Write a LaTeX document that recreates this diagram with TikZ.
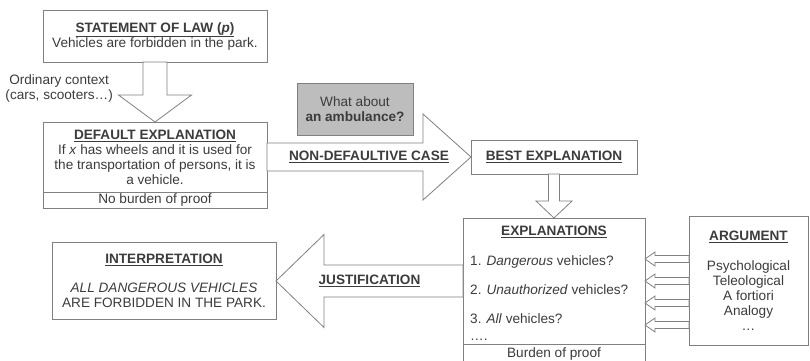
\documentclass[tikz,border=0pt]{standalone}
\usepackage{fontspec}
\setmainfont{Liberation Sans}
\usetikzlibrary{positioning, calc}
\definecolor{linegray}{HTML}{808080}
\definecolor{textgray}{HTML}{3C3C3C}
\definecolor{askfill}{HTML}{BDBDBD}

\begin{document}
\begin{tikzpicture}[
  x=1pt, y=-1pt,
  every node/.style={text=textgray, font=\fontsize{13.6}{15}\selectfont},
  box/.style={draw=linegray, line width=0.8pt, fill=white, align=center,
              inner sep=2pt, outer sep=0pt},
  foot/.style={box, minimum height=16pt},
  ask/.style={box, fill=askfill, minimum width=116pt, minimum height=52pt},
  note/.style={align=center, inner sep=0pt},
  lbl/.style={inner sep=0pt},
  fatarrow/.style={draw=linegray, line width=0.8pt, fill=white},
  fat down/.style n args={3}{fatarrow, to path={
    ($(\tikztostart)+(-#1,0)$) -- ($(\tikztotarget)+(-#1,-#3)$) -- ($(\tikztotarget)+(-#2,-#3)$)
    -- (\tikztotarget) -- ($(\tikztotarget)+(#2,-#3)$) -- ($(\tikztotarget)+(#1,-#3)$)
    -- ($(\tikztostart)+(#1,0)$) -- cycle}},
  fat right/.style n args={3}{fatarrow, to path={
    ($(\tikztostart)+(0,-#1)$) -- ($(\tikztotarget)+(-#3,-#1)$) -- ($(\tikztotarget)+(-#3,-#2)$)
    -- (\tikztotarget) -- ($(\tikztotarget)+(-#3,#2)$) -- ($(\tikztotarget)+(-#3,#1)$)
    -- ($(\tikztostart)+(0,#1)$) -- cycle}},
  fat left/.style n args={3}{fatarrow, to path={
    ($(\tikztostart)+(0,-#1)$) -- ($(\tikztotarget)+(#3,-#1)$) -- ($(\tikztotarget)+(#3,-#2)$)
    -- (\tikztotarget) -- ($(\tikztotarget)+(#3,#2)$) -- ($(\tikztotarget)+(#3,#1)$)
    -- ($(\tikztostart)+(0,#1)$) -- cycle}},
]
\useasboundingbox (0,0) rectangle (810,360);

% === Left column: law and default reading ===
\node[box, minimum width=224pt, minimum height=52pt] (law) at (155,36)
  {\underline{\textbf{STATEMENT OF LAW (\textit{p})}}\\Vehicles are forbidden in the park.};

\node[box, minimum width=224pt, minimum height=70pt, below=60pt of law] (default)
  {\underline{\textbf{DEFAULT EXPLANATION}}\\If \textit{x} has wheels and it is used for\\
   the transportation of persons, it is\\a vehicle.};
\node[foot, minimum width=224pt, below=0pt of default] (noburden) {No burden of proof};

\node[note, anchor=east] (ordinary) at ($(law.south)+(-42,26)$)
  {Ordinary context\\(cars, scooters…)};

% === Hard case ===
\node[box, minimum width=166pt, minimum height=34pt, right=204pt of default] (best)
  {\underline{\textbf{BEST EXPLANATION}}};

\node[ask] (ambulance) at (355,109) {What about\\\textbf{an ambulance?}};

% === Candidate explanations and arguments ===
\node[box, minimum width=182pt, minimum height=126pt, below=44pt of best] (expl) {};
\node[foot, minimum width=182pt, minimum height=19pt, below=0pt of expl] (proof) {Burden of proof};
\node[lbl, below=8pt of expl.north] (explhead) {\underline{\textbf{EXPLANATIONS}}};
\node[lbl, align=left, anchor=north west] (expllist) at ($(expl.north west)+(7,37)$)
  {1. \textit{Dangerous} vehicles?\\[14pt]2. \textit{Unauthorized} vehicles?\\[14pt]
   3. \textit{All} vehicles?\\[2pt]….};

\node[box, minimum width=119pt, minimum height=129pt, right=44pt of expl] (argument)
  {\underline{\textbf{ARGUMENT}}\\[15pt]Psychological\\Teleological\\A fortiori\\Analogy\\…};

\node[box, minimum width=224pt, minimum height=77pt, left=187pt of expl] (interp)
  {\underline{\textbf{INTERPRETATION}}\\[14pt]\textit{ALL DANGEROUS VEHICLES}\\
   ARE FORBIDDEN IN THE PARK.};

% === Block arrows ===
\draw[fat down={12}{36.5}{27}] (law.south) to (default.north);
\draw[fat right={14}{43}{48}] (default.east |- best.west) to (best.west);
\draw[fat down={5.5}{18}{17}] (best.south -| expl.north) to (expl.north);
\draw[fat left={16}{46.5}{48}] (expl.west |- interp.east) to (interp.east);
\foreach \dy [count=\i] in {-22,0,22,44} {
  \coordinate (arg\i) at ($(argument.west)+(0,\dy)$);
  \draw[fat left={3.5}{7}{10}] (arg\i) to (expl.east |- arg\i);
}

% === Arrow labels ===
\node[lbl] (nondefault) at ($(default.east)!0.5!(best.west)$)
  {\underline{\textbf{NON-DEFAULTIVE CASE}}};
\node[lbl] (justif) at ($(interp.east)!0.5!(expl.west)$)
  {\underline{\textbf{JUSTIFICATION}}};

\end{tikzpicture}
\end{document}
